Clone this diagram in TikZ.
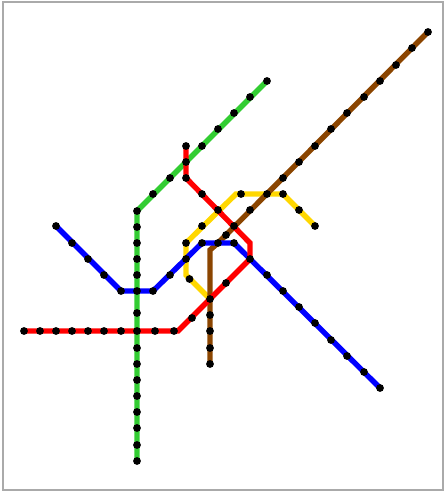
\documentclass[tikz,border=0pt]{standalone}
\usetikzlibrary{backgrounds}
\definecolor{frameg}{RGB}{170,170,170}
\definecolor{lgreen}{RGB}{50,205,50}
\definecolor{lred}{RGB}{255,0,0}
\definecolor{lblue}{RGB}{0,0,255}
\definecolor{lyellow}{RGB}{255,215,0}
\definecolor{lbrown}{RGB}{139,69,0}
\tikzset{
  stn/.style={circle,fill=black,inner sep=0pt,minimum size=7.8pt},
  metro/.style={line width=5.4pt,line join=miter,line cap=butt},
}
\newcommand{\stations}[1]{\foreach \n/\x/\y in {#1}{\node[stn] (\n) at (\x,\y) {};}}
\begin{document}
\begin{tikzpicture}[x=1pt,y=-1pt]
\useasboundingbox (0,0) rectangle (445,492);
\draw[frameg,line width=2pt] (2.5,2.5) rectangle (442.5,490);
% green line
\stations{g1/267/81,g2/250/97,g3/234/113,g4/218/129,g5/202/146,x1/186/162,g7/170/178,g8/153/194,g9/137/211,g10/137/227,g11/137/243,g12/137/259,g13/137/275,x2/137/291,g15/137/313,x3/137/331,g17/137/348,g18/137/364,g19/137/380,g20/137/396,g21/137/412,g22/137/428,g23/137/445,g24/137/461}
% red line
\stations{r1/24/331,r2/40/331,r3/56/331,r4/72/331,r5/88/331,r6/104/331,r7/121/331,r8/155/331,r9/174/331,r10/192/318,x4/210/299,r12/226/283,x5/250/259,x6/234/226,x7/218/210,r16/202/194,r17/186/178,r18/186/146}
% blue line
\stations{b1/56/226,b2/72/243,b3/88/259,b4/104/275,b5/121/291,b6/153/291,b7/170/275,x8/186/259,b9/202/243,x9/218/243,b11/234/243,b12/267/275,b13/283/291,b14/299/307,b15/315/323,b16/331/340,b17/347/356,b18/364/372,b19/380/388}
% yellow line
\stations{y1/315/226,y2/299/210,y3/283/194,x10/267/194,y5/241/194,y6/202/226,x11/186/243,y7/189.5/279}
% brown line
\stations{n1/428/32,n2/412/48,n3/396/65,n4/380/81,n5/364/97,n6/347/113,n7/331/129,n8/315/146,n9/299/162,n10/283/178,n11/250/210,n12/226/235,n13/210/315,n14/210/331,n15/210/348,n16/210/364}
% corners
\coordinate (cr1) at (178,331);
\coordinate (cr2) at (250,243);
\coordinate (cy1) at (236,194);
\coordinate (cy2) at (186,275);
\coordinate (cn1) at (210,250);
\begin{scope}[on background layer]
\draw[metro,lgreen] (g1.center)--(x1.center)--(g9.center)--(g24.center);
\draw[metro,lyellow] (y1.center)--(y3.center)--(cy1)--(x11.center)--(cy2)--(x4.center);
\draw[metro,lbrown] (n1.center)--(x9.center)--(cn1)--(n16.center);
\draw[metro,lblue] (b1.center)--(b5.center)--(b6.center)--(b9.center)--(b11.center)--(b19.center);
\draw[metro,lred] (r1.center)--(cr1)--(x5.center)--(cr2)--(r17.center)--(r18.center);
\end{scope}
\end{tikzpicture}
\end{document}
